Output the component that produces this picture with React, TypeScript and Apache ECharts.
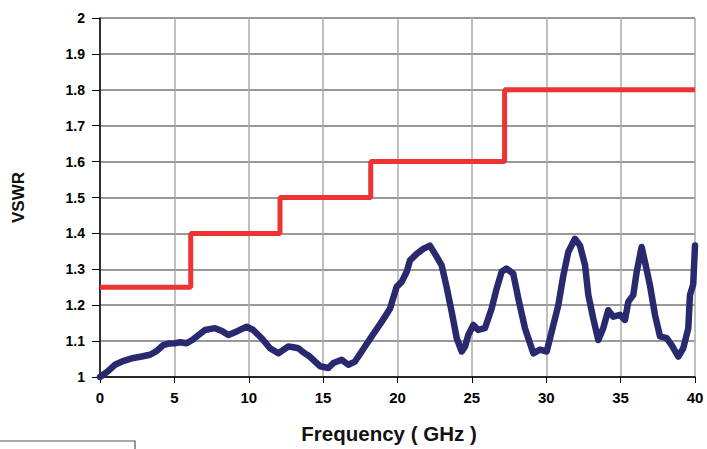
import React, { useEffect, useRef } from "react";
import * as echarts from "echarts";

const xTicks = [0, 5, 10, 15, 20, 25, 30, 35, 40];
const yTicks = [1, 1.1, 1.2, 1.3, 1.4, 1.5, 1.6, 1.7, 1.8, 1.9, 2];

// Spec limit (step)
const limitFreq = [0, 6.1, 6.1, 12.1, 12.1, 18.2, 18.2, 27.2, 27.2, 40];
const limitVswr = [1.25, 1.25, 1.4, 1.4, 1.5, 1.5, 1.6, 1.6, 1.8, 1.8];

// Measured VSWR
const measFreq = [
  0, 0.5, 1.0, 1.6, 2.24, 2.8, 3.36, 3.8, 4.26, 4.6, 5.04, 5.4, 5.83, 6.2, 6.5, 7.06, 7.73, 8.2, 8.63,
  9.19, 9.86, 10.3, 10.87, 11.43, 11.99, 12.3, 12.66, 13.0, 13.33, 13.7, 14.1, 14.79, 15.35, 15.69, 16.25,
  16.69, 17.14, 17.59, 18.26, 18.94, 19.5, 19.94, 20.28, 20.62, 20.84, 21.29, 21.73, 22.18, 22.52, 22.97,
  23.3, 23.64, 23.98, 24.32, 24.54, 24.76, 25.1, 25.43, 25.88, 26.33, 26.67, 27.0, 27.33, 27.78, 28.12,
  28.57, 29.13, 29.58, 30.03, 30.37, 30.81, 31.15, 31.48, 31.93, 32.27, 32.61, 32.83, 33.16, 33.5, 33.83,
  34.17, 34.51, 34.96, 35.29, 35.52, 35.85, 36.08, 36.41, 36.64, 36.97, 37.31, 37.65, 38.1, 38.43, 38.88,
  39.21, 39.55, 39.66, 39.88, 40.0,
];
const measVswr = [
  1.0, 1.015, 1.034, 1.045, 1.053, 1.057, 1.062, 1.072, 1.089, 1.093, 1.094, 1.097, 1.094, 1.103, 1.113,
  1.131, 1.136, 1.128, 1.117, 1.127, 1.14, 1.131, 1.108, 1.08, 1.066, 1.075, 1.085, 1.083, 1.08, 1.068,
  1.057, 1.03, 1.025, 1.039, 1.048, 1.034, 1.043, 1.071, 1.113, 1.154, 1.191, 1.251, 1.265, 1.293, 1.325,
  1.343, 1.357, 1.366, 1.343, 1.311, 1.251, 1.182, 1.108, 1.071, 1.085, 1.117, 1.145, 1.131, 1.136, 1.191,
  1.247, 1.293, 1.302, 1.288, 1.219, 1.136, 1.066, 1.076, 1.071, 1.127, 1.2, 1.283, 1.348, 1.385, 1.366,
  1.311, 1.228, 1.163, 1.103, 1.136, 1.186, 1.168, 1.173, 1.159, 1.21, 1.228, 1.293, 1.362, 1.32, 1.256,
  1.173, 1.113, 1.108, 1.089, 1.057, 1.08, 1.136, 1.228, 1.258, 1.366,
];

export default function App() {
  const ref = useRef<HTMLDivElement>(null);
  useEffect(() => {
    if (!ref.current) return;
    const chart = echarts.init(ref.current, null, { renderer: "svg" });
    const font = "'Liberation Sans', Arial, sans-serif";
    chart.setOption({
      animation: false,
      backgroundColor: "#ffffff",
      textStyle: { fontFamily: font },
      grid: { left: 100, right: 12, top: 18, bottom: 70, containLabel: false },
      xAxis: {
        type: "value",
        min: xTicks[0],
        max: xTicks[xTicks.length - 1],
        interval: 5,
        name: "Frequency ( GHz )",
        nameLocation: "middle",
        nameGap: 46,
        nameTextStyle: {
          fontFamily: font,
          fontWeight: "bold",
          fontSize: 20.5,
          color: "#111",
          padding: [0, 17, 0, 0],
        },
        axisLine: { show: true, onZero: false, lineStyle: { color: "#000", width: 1.5 } },
        axisTick: { show: true, length: 6, lineStyle: { color: "#000" } },
        axisLabel: { fontFamily: font, fontWeight: "bold", fontSize: 15, color: "#000", margin: 13 },
        splitLine: { show: true, lineStyle: { color: "#aaaaaa", width: 1.5 } },
      },
      yAxis: {
        type: "value",
        min: yTicks[0],
        max: yTicks[yTicks.length - 1],
        interval: 0.1,
        name: "VSWR",
        nameLocation: "middle",
        nameGap: 73,
        nameRotate: 90,
        nameTextStyle: { fontFamily: font, fontWeight: "bold", fontSize: 17, color: "#111" },
        axisLine: { show: true, lineStyle: { color: "#000", width: 1.5 } },
        axisTick: { show: true, length: 8, lineStyle: { color: "#000" } },
        axisLabel: {
          fontFamily: font,
          fontWeight: "bold",
          fontSize: 14,
          color: "#000",
          margin: 15,
          formatter: (v: number) => String(Math.round(v * 10) / 10),
        },
        splitLine: { show: true, lineStyle: { color: "#777777", width: 1.5 } },
      },
      graphic: [
        {
          type: "rect",
          shape: { x: -2, y: 441, width: 137, height: 30 },
          style: { fill: "none", stroke: "#555", lineWidth: 1.2 },
        },
      ],
      series: [
        {
          type: "line",
          data: limitFreq.map((f, i) => [f, limitVswr[i]]),
          symbol: "none",
          lineStyle: { color: "#ee3333", width: 5 },
          z: 3,
        },
        {
          type: "line",
          data: measFreq.map((f, i) => [f, measVswr[i]]),
          symbol: "none",
          lineStyle: { color: "#29296f", width: 6.5, join: "round", cap: "round" },
          z: 4,
        },
      ],
    });
    return () => chart.dispose();
  }, []);
  return <div ref={ref} style={{ width: 707, height: 449, position: "absolute", left: 0, top: 0 }} />;
}
